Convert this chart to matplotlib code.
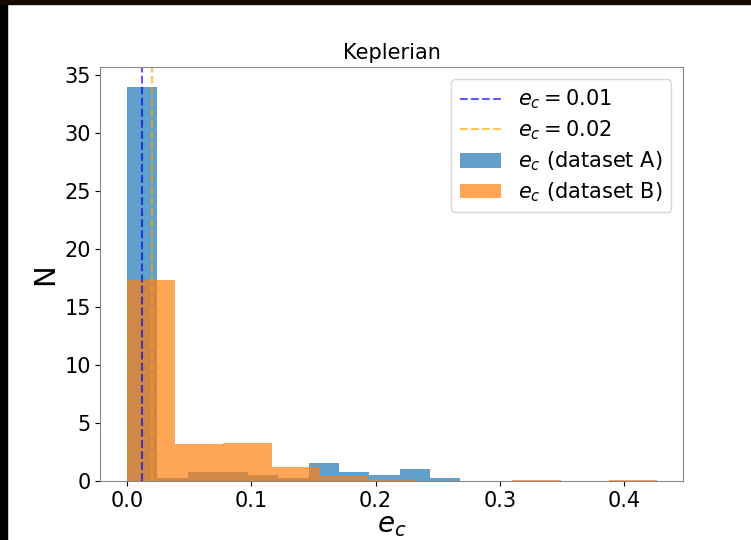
import numpy as np
import matplotlib
matplotlib.use("Agg")
import matplotlib.pyplot as plt
from matplotlib.patches import Rectangle

# Histogram bin heights (density) and bin ranges for the two datasets
ecc_a_range = (0.0, 0.268)
ecc_a_heights = [34.0, 0.26, 0.78, 0.78, 0.52, 0.26, 1.56, 0.78, 0.52, 1.06, 0.26]

ecc_b_range = (0.0, 0.4264)
ecc_b_heights = [17.35, 3.2, 3.3, 1.2, 0.4, 0.1, 0.0, 0.0, 0.1, 0.0, 0.1]

# Reference eccentricities marked by dashed lines
ecc_ref_a = 0.0123
ecc_ref_b = 0.0198

fig = plt.figure(figsize=(7.51, 5.40), dpi=100)
ax = fig.add_axes([0.1338, 0.1093, 0.7763, 0.7667])

ax.axvline(ecc_ref_a, color="blue", ls="--", alpha=0.65, lw=1.5,
           label=rf"$e_c = {ecc_ref_a:.2f}$")
ax.axvline(ecc_ref_b, color="orange", ls="--", alpha=0.65, lw=1.5,
           label=rf"$e_c = {ecc_ref_b:.2f}$")

edges_a = np.linspace(*ecc_a_range, len(ecc_a_heights) + 1)
edges_b = np.linspace(*ecc_b_range, len(ecc_b_heights) + 1)
ax.hist(edges_a[:-1], bins=edges_a, weights=ecc_a_heights, alpha=0.7,
        color="C0", label=r"$e_c$ (dataset A)")
ax.hist(edges_b[:-1], bins=edges_b, weights=ecc_b_heights, alpha=0.7,
        color="C1", label=r"$e_c$ (dataset B)")

ax.set_title("Keplerian", fontsize=15)
ax.set_xlabel(r"$e_c$", fontsize=20, labelpad=0)
ax.set_ylabel("N", fontsize=21)
ax.tick_params(labelsize=15)
ax.set_xticks([0.0, 0.1, 0.2, 0.3, 0.4])
ax.set_yticks(range(0, 36, 5))
for sp in ax.spines.values():
    sp.set_color("#888888")

ax.legend(loc="upper right", fontsize=15, labelspacing=0.35,
          borderaxespad=0.6)

# dark strips along the top and left edges
fig.add_artist(Rectangle((0, 0), 7 / 751, 1, transform=fig.transFigure,
                         color="black", zorder=10))
fig.add_artist(Rectangle((0, 1 - 4 / 540), 1, 4 / 540, transform=fig.transFigure,
                         color="#120a04", zorder=10))

fig.savefig("out.png", dpi=100)
